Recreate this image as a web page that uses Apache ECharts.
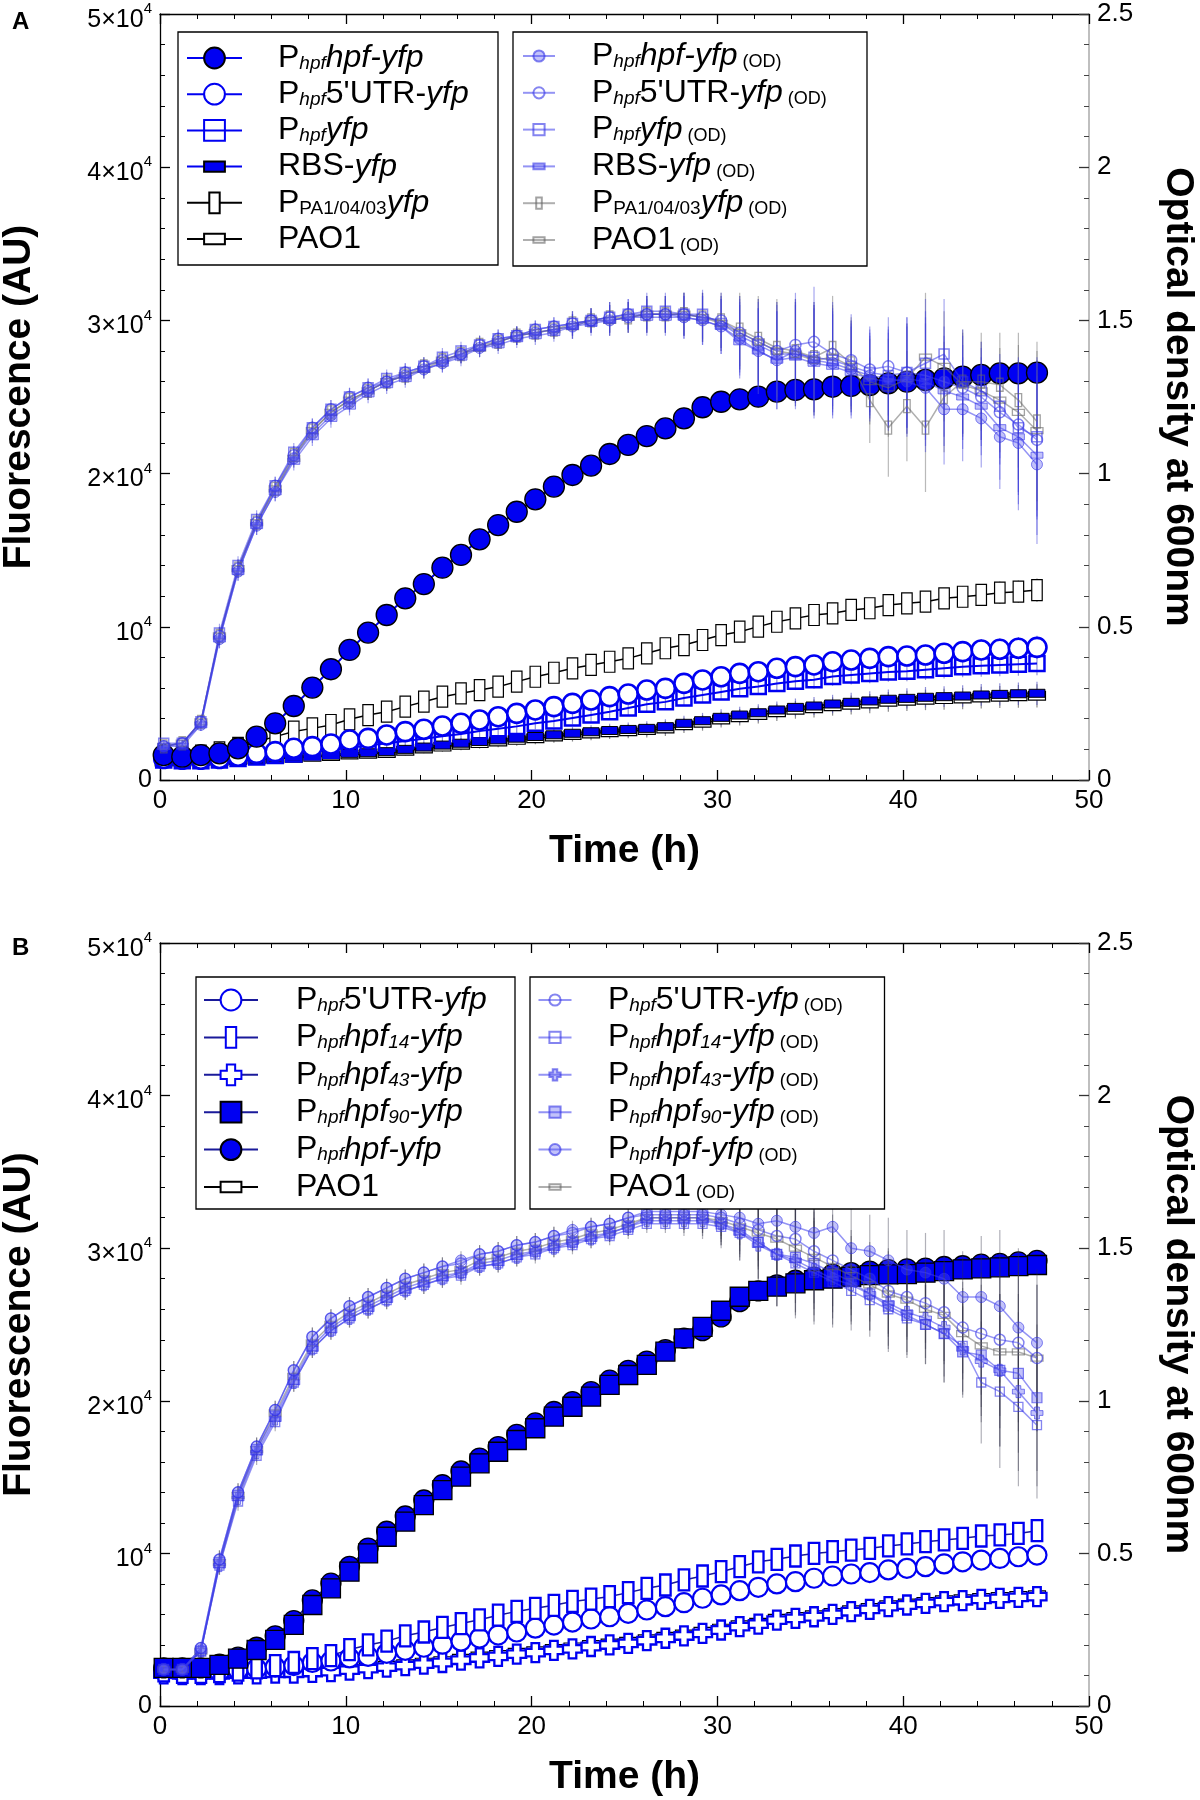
<!DOCTYPE html>
<html><head><meta charset="utf-8">
<script src="https://cdn.jsdelivr.net/npm/echarts@6/dist/echarts.min.js"></script>
<style>html,body{margin:0;padding:0;background:#fff}#c{width:1200px;height:1800px}</style>
</head><body><div id="c"></div>
<script>
// ---------- DATA ----------
const time = [0.2,1.2,2.2,3.2,4.2,5.2,6.2,7.2,8.2,9.2,10.2,11.2,12.2,13.2,14.2,15.2,16.2,17.2,18.2,19.2,20.2,21.2,22.2,23.2,24.2,25.2,26.2,27.2,28.2,29.2,30.2,31.2,32.2,33.2,34.2,35.2,36.2,37.2,38.2,39.2,40.2,41.2,42.2,43.2,44.2,45.2,46.2,47.2];

// Panel A – fluorescence (AU)
const fA_hpf = [1630,1520,1630,1740,2070,2830,3700,4830,6030,7230,8490,9620,10770,11860,12790,13860,14690,15710,16640,17510,18320,19150,19910,20520,21280,21870,22450,22950,23610,24330,24690,24850,25020,25350,25460,25500,25670,25720,25780,25890,26000,26110,26220,26330,26440,26540,26540,26590];
const fA_utr = [1400,1350,1350,1400,1550,1740,1850,2070,2180,2350,2610,2720,2940,3160,3310,3520,3700,3920,4130,4350,4570,4790,5000,5220,5440,5610,5870,5980,6310,6530,6740,6960,7070,7290,7400,7510,7720,7830,7940,8050,8090,8160,8270,8380,8490,8530,8600,8660];
const fA_yfp = [1300,1250,1250,1300,1400,1500,1600,1700,1850,1950,2100,2250,2400,2550,2700,2850,3000,3200,3350,3500,3700,3850,4050,4250,4450,4700,4950,5100,5350,5550,5750,5950,6100,6300,6450,6550,6750,6850,6950,7050,7100,7200,7300,7400,7450,7500,7550,7600];
const fA_rbs = [1260,1260,1310,1310,1370,1410,1480,1520,1560,1630,1740,1780,1850,2000,2150,2280,2400,2510,2620,2730,2840,2950,3050,3150,3230,3300,3370,3480,3700,3870,4090,4240,4390,4570,4740,4830,4960,5070,5160,5270,5330,5400,5440,5480,5550,5590,5630,5660];
const fA_pa1 = [1500,1500,1600,1800,2100,2500,2830,3160,3370,3590,3960,4240,4460,4790,5110,5440,5660,5870,6090,6420,6740,7000,7290,7510,7720,7940,8270,8600,8810,9140,9460,9680,10010,10330,10550,10770,10880,11100,11210,11420,11530,11640,11860,11960,12080,12230,12290,12400];
const fA_pao1 = [1200,1200,1250,1250,1300,1350,1400,1450,1500,1560,1650,1700,1760,1900,2050,2170,2290,2400,2500,2610,2720,2830,2930,3030,3110,3180,3250,3350,3560,3730,3940,4090,4240,4410,4580,4670,4800,4900,4990,5100,5160,5230,5270,5310,5380,5420,5460,5490];
const errF_A = [150,150,160,160,180,200,210,220,230,250,260,270,280,300,310,320,340,350,360,380,390,400,420,430,440,460,470,480,500,510,520,540,550,560,580,590,600,620,630,640,660,670,680,700,710,720,740,760];

// Panel A – optical density
const odA_hpf = [0.11,0.12,0.18,0.46,0.68,0.83,0.94,1.05,1.13,1.19,1.23,1.27,1.30,1.32,1.34,1.36,1.39,1.41,1.43,1.45,1.46,1.47,1.48,1.50,1.50,1.51,1.52,1.52,1.51,1.50,1.48,1.44,1.40,1.37,1.40,1.37,1.36,1.34,1.32,1.31,1.30,1.28,1.21,1.21,1.18,1.12,1.10,1.03];
const odA_utr = [0.11,0.12,0.19,0.47,0.69,0.84,0.96,1.06,1.15,1.21,1.25,1.28,1.30,1.33,1.35,1.37,1.39,1.42,1.44,1.45,1.47,1.48,1.49,1.50,1.51,1.52,1.52,1.52,1.52,1.51,1.50,1.46,1.43,1.40,1.42,1.43,1.39,1.37,1.34,1.35,1.33,1.32,1.30,1.28,1.25,1.20,1.16,1.11];
const odA_yfp = [0.12,0.12,0.19,0.48,0.70,0.85,0.96,1.07,1.15,1.21,1.25,1.28,1.31,1.33,1.35,1.38,1.40,1.42,1.44,1.45,1.47,1.48,1.49,1.50,1.51,1.52,1.53,1.53,1.52,1.52,1.49,1.45,1.42,1.39,1.39,1.38,1.37,1.35,1.33,1.32,1.33,1.36,1.39,1.30,1.27,1.22,1.15,1.12];
const odA_rbs = [0.11,0.11,0.18,0.46,0.68,0.83,0.94,1.04,1.12,1.18,1.22,1.26,1.29,1.31,1.34,1.36,1.38,1.41,1.42,1.44,1.45,1.46,1.48,1.49,1.50,1.51,1.51,1.51,1.51,1.50,1.48,1.43,1.40,1.37,1.38,1.36,1.35,1.33,1.31,1.30,1.31,1.30,1.27,1.25,1.22,1.15,1.12,1.06];
const odA_pa1 = [0.11,0.12,0.19,0.47,0.69,0.84,0.95,1.06,1.14,1.20,1.24,1.27,1.30,1.32,1.35,1.37,1.39,1.42,1.43,1.45,1.46,1.47,1.49,1.50,1.51,1.51,1.52,1.52,1.52,1.51,1.50,1.47,1.44,1.41,1.40,1.38,1.41,1.36,1.24,1.15,1.22,1.15,1.25,1.30,1.30,1.29,1.24,1.17];
const odA_pao1 = [0.11,0.12,0.19,0.47,0.69,0.84,0.95,1.05,1.14,1.20,1.24,1.27,1.30,1.32,1.34,1.37,1.39,1.41,1.43,1.45,1.46,1.47,1.48,1.50,1.50,1.51,1.52,1.52,1.52,1.51,1.49,1.46,1.43,1.40,1.39,1.37,1.38,1.35,1.30,1.28,1.31,1.38,1.35,1.29,1.27,1.24,1.20,1.14];
const errOD_A = [0.01,0.01,0.02,0.03,0.03,0.03,0.03,0.03,0.03,0.03,0.03,0.03,0.03,0.03,0.03,0.03,0.03,0.03,0.03,0.03,0.03,0.03,0.04,0.04,0.05,0.05,0.06,0.06,0.07,0.08,0.09,0.12,0.14,0.16,0.17,0.18,0.17,0.15,0.14,0.16,0.18,0.21,0.18,0.17,0.16,0.17,0.22,0.26];

// Panel B – fluorescence (AU)
const fB_utr = [2300,2250,2250,2250,2350,2450,2550,2650,2850,2950,3150,3250,3450,3650,3850,4050,4250,4450,4650,4850,5100,5300,5500,5700,5850,6070,6290,6510,6770,7060,7280,7560,7780,8000,8150,8370,8520,8650,8740,8920,9020,9130,9310,9450,9560,9670,9780,9890];
const fB_h14 = [2300,2200,2200,2250,2350,2500,2650,2850,3100,3300,3700,4000,4250,4600,4850,5150,5400,5650,5950,6200,6400,6600,6850,7000,7170,7430,7710,7930,8260,8520,8800,9130,9450,9610,9830,10000,10110,10220,10330,10490,10620,10770,10880,10990,11140,11210,11310,11490];
const fB_h43 = [2100,2050,2050,2050,2100,2100,2150,2150,2200,2250,2350,2450,2550,2650,2750,2850,3000,3150,3250,3400,3500,3650,3750,3900,4000,4110,4280,4440,4590,4760,4980,5200,5370,5630,5740,5850,6010,6180,6330,6510,6620,6730,6840,6900,6990,7050,7120,7170];
const fB_h90 = [2500,2500,2500,2700,3100,3670,4330,5310,6620,7710,8800,10000,11090,12080,13170,14150,15030,15900,16660,17430,18200,18960,19610,20270,21040,21690,22350,23220,24090,24850,25900,26820,27200,27480,27700,27900,28000,28130,28240,28280,28300,28400,28500,28610,28680,28750,28830,28900];
const fB_hpf = [2500,2500,2500,2750,3200,3850,4600,5600,6950,8050,9150,10350,11450,12450,13500,14500,15400,16250,17000,17800,18550,19300,19950,20600,21350,22000,22600,23350,24100,24600,25500,26500,27200,27600,27900,28100,28300,28400,28500,28600,28650,28700,28800,28850,28950,29000,29100,29200];
const fB_pao1 = [2150,2100,2100,2100,2150,2150,2200,2250,2300,2350,2450,2550,2650,2750,2850,2950,3100,3250,3350,3500,3600,3750,3850,4000,4100,4220,4380,4540,4700,4870,5080,5300,5470,5720,5840,5950,6110,6280,6430,6610,6720,6830,6940,7000,7090,7150,7220,7270];
const errF_B = [120,120,130,130,140,150,160,170,180,190,200,210,220,230,240,250,260,270,280,290,300,310,320,330,340,350,360,370,380,390,400,410,420,430,440,450,460,470,480,490,500,510,520,530,540,550,560,570];

// Panel B – optical density
const odB_utr = [0.12,0.12,0.19,0.48,0.70,0.85,0.97,1.10,1.21,1.27,1.31,1.34,1.37,1.40,1.42,1.44,1.45,1.48,1.49,1.51,1.52,1.54,1.55,1.57,1.58,1.60,1.61,1.61,1.61,1.61,1.60,1.58,1.56,1.54,1.53,1.49,1.46,1.43,1.40,1.36,1.34,1.32,1.29,1.24,1.22,1.20,1.19,1.14];
const odB_h14 = [0.12,0.12,0.18,0.46,0.67,0.82,0.93,1.06,1.17,1.23,1.27,1.30,1.33,1.36,1.38,1.40,1.41,1.44,1.45,1.47,1.48,1.50,1.51,1.53,1.54,1.56,1.58,1.58,1.58,1.58,1.57,1.55,1.52,1.48,1.45,1.42,1.39,1.36,1.33,1.30,1.27,1.25,1.22,1.18,1.06,1.03,0.98,0.92];
const odB_h43 = [0.12,0.12,0.18,0.46,0.68,0.83,0.94,1.06,1.17,1.23,1.27,1.30,1.33,1.36,1.38,1.40,1.42,1.44,1.45,1.47,1.49,1.50,1.52,1.53,1.55,1.57,1.59,1.59,1.59,1.59,1.58,1.55,1.51,1.48,1.46,1.43,1.40,1.38,1.35,1.32,1.29,1.27,1.24,1.17,1.13,1.10,1.03,0.96];
const odB_h90 = [0.12,0.12,0.18,0.47,0.69,0.84,0.95,1.07,1.18,1.24,1.28,1.31,1.34,1.37,1.39,1.41,1.42,1.45,1.46,1.48,1.49,1.51,1.52,1.54,1.55,1.57,1.60,1.60,1.60,1.60,1.58,1.56,1.52,1.48,1.47,1.45,1.42,1.39,1.35,1.31,1.28,1.25,1.22,1.16,1.15,1.10,1.09,1.01];
const odB_hpf = [0.12,0.12,0.19,0.48,0.70,0.85,0.97,1.10,1.21,1.27,1.31,1.34,1.37,1.40,1.42,1.44,1.46,1.48,1.49,1.51,1.52,1.54,1.56,1.57,1.58,1.60,1.62,1.62,1.62,1.62,1.61,1.60,1.58,1.59,1.57,1.55,1.57,1.50,1.49,1.46,1.43,1.42,1.40,1.34,1.34,1.31,1.24,1.19];
const odB_pao1 = [0.12,0.12,0.18,0.47,0.69,0.84,0.96,1.08,1.19,1.25,1.29,1.32,1.35,1.38,1.40,1.42,1.43,1.46,1.47,1.49,1.50,1.52,1.53,1.55,1.56,1.58,1.60,1.60,1.60,1.60,1.59,1.57,1.55,1.53,1.50,1.47,1.44,1.41,1.38,1.35,1.33,1.30,1.28,1.22,1.18,1.16,1.16,1.14];
const errOD_B = [0.01,0.01,0.02,0.03,0.03,0.03,0.03,0.03,0.03,0.03,0.03,0.03,0.03,0.03,0.03,0.03,0.03,0.03,0.03,0.03,0.03,0.03,0.03,0.03,0.03,0.03,0.03,0.03,0.04,0.05,0.07,0.09,0.12,0.17,0.18,0.17,0.15,0.13,0.12,0.14,0.13,0.13,0.16,0.15,0.20,0.25,0.26,0.24];

// Axis tick values
const xTicks = {min:0, max:50, interval:10};
const fTicks = {min:0, max:50000, interval:10000};
const odTicks = {min:0, max:2.5, interval:0.5};

// ---------- STYLE ----------
const FF = "'Liberation Sans', Arial, Helvetica, sans-serif";
const BLUE = '#0000f2';
const NAVY = '#1a1a9a';
const ODL = 'rgba(60,60,235,0.55)', ODF = 'rgba(80,80,240,0.35)', ODB = 'rgba(50,50,230,0.6)';
const GRL = 'rgba(110,110,110,0.55)', GRB = 'rgba(100,100,100,0.6)';
const TALL = 'path://M0 0L0 0M20 20L20 20M5 0L15 0L15 20L5 20Z';
const WIDE = 'path://M0 0L0 0M20 20L20 20M0 5L20 5L20 15L0 15Z';
const PLUS = 'path://M6 0L14 0L14 6L20 6L20 14L14 14L14 20L6 20L6 14L0 14L0 6L6 6Z';
const ERRC = ['rgba(70,70,190,0.6)','rgba(60,60,60,0.6)','rgba(60,60,220,0.45)','rgba(100,100,100,0.45)','rgba(50,50,70,0.38)'];

const LABEL = {
  A_hpf:'{g| }{n|P}{s|hpf}{i|hpf-yfp}', A_utr:"{g| }{n|P}{s|hpf}{n|5'UTR-}{i|yfp}", A_yfp:'{g| }{n|P}{s|hpf}{i|yfp}',
  A_rbs:'{g| }{n|RBS-}{i|yfp}', A_pa1:'{g| }{n|P}{sn|PA1/04/03}{i|yfp}', A_pao1:'{g| }{n|PAO1}',
  A_hpf_od:'{g| }{n|P}{s|hpf}{i|hpf-yfp}{od| (OD)}', A_utr_od:"{g| }{n|P}{s|hpf}{n|5'UTR-}{i|yfp}{od| (OD)}", A_yfp_od:'{g| }{n|P}{s|hpf}{i|yfp}{od| (OD)}',
  A_rbs_od:'{g| }{n|RBS-}{i|yfp}{od| (OD)}', A_pa1_od:'{g| }{n|P}{sn|PA1/04/03}{i|yfp}{od| (OD)}', A_pao1_od:'{g| }{n|PAO1}{od| (OD)}',
  B_utr:"{g| }{n|P}{s|hpf}{n|5'UTR-}{i|yfp}", B_h14:'{g| }{n|P}{s|hpf}{i|hpf}{s|14}{i|-yfp}', B_h43:'{g| }{n|P}{s|hpf}{i|hpf}{s|43}{i|-yfp}',
  B_h90:'{g| }{n|P}{s|hpf}{i|hpf}{s|90}{i|-yfp}', B_hpf:'{g| }{n|P}{s|hpf}{i|hpf-yfp}', B_pao1:'{g| }{n|PAO1}',
  B_utr_od:"{g| }{n|P}{s|hpf}{n|5'UTR-}{i|yfp}{od| (OD)}", B_h14_od:'{g| }{n|P}{s|hpf}{i|hpf}{s|14}{i|-yfp}{od| (OD)}', B_h43_od:'{g| }{n|P}{s|hpf}{i|hpf}{s|43}{i|-yfp}{od| (OD)}',
  B_h90_od:'{g| }{n|P}{s|hpf}{i|hpf}{s|90}{i|-yfp}{od| (OD)}', B_hpf_od:'{g| }{n|P}{s|hpf}{i|hpf-yfp}{od| (OD)}', B_pao1_od:'{g| }{n|PAO1}{od| (OD)}'
};

function pts(vals){ return vals.map((v,i)=>[time[i], v]); }
function ser(name, vals, xi, yi, symbol, size, fill, border, bw, lineColor, lw, z){
  return {name, type:'line', xAxisIndex:xi, yAxisIndex:yi, data:pts(vals), symbol, symbolSize:size,
    showSymbol:true, showAllSymbol:true, z:z||2, silent:true,
    itemStyle:{color:fill, borderColor:border, borderWidth:bw, opacity:1},
    lineStyle:{color:lineColor, width:lw}, emphasis:{disabled:true}};
}
function errData(list, err){ const out=[]; list.forEach(([vals,c])=>vals.forEach((v,i)=>out.push([time[i], v, err[i], c]))); return out; }
function renderErr(params, api){
  const x=api.value(0), y=api.value(1), e=api.value(2);
  const a=api.coord([x,y-e]), b=api.coord([x,y+e]);
  return {type:'line', shape:{x1:a[0],y1:a[1],x2:b[0],y2:b[1]}, style:{stroke:ERRC[api.value(3)], lineWidth:1.2}};
}
function errSeries(xi, yi, data, z){
  return {type:'custom', xAxisIndex:xi, yAxisIndex:yi, renderItem:renderErr, data, encode:{x:0,y:1}, z, silent:true};
}
function fmtF(v){ if(v===0) return '0'; const m=Math.round(v/10000); return m===1 ? '{b|10}{s|4}' : '{b|'+m+'×10}{s|4}'; }

const tickLine = {color:'#000', width:1.3};
const titleStyle = {fontSize:39,fontWeight:'bold',color:'#000',fontFamily:FF};
function xAxes(gi){
  return [
    {gridIndex:gi, type:'value', position:'bottom', min:xTicks.min, max:xTicks.max, interval:xTicks.interval,
     axisLine:{show:true,onZero:false,lineStyle:tickLine}, axisTick:{show:true,inside:true,length:10,lineStyle:tickLine},
     minorTick:{show:true,splitNumber:5,length:5,lineStyle:{color:'#000',width:1}}, splitLine:{show:false}, minorSplitLine:{show:false},
     axisLabel:{fontSize:26,color:'#000',fontFamily:FF,margin:8},
     name:'Time (h)', nameLocation:'middle', nameGap:52, nameTextStyle:titleStyle},
    {gridIndex:gi, type:'value', position:'top', min:xTicks.min, max:xTicks.max, interval:xTicks.interval,
     axisLine:{show:true,onZero:false,lineStyle:tickLine}, axisTick:{show:true,inside:true,length:10,lineStyle:tickLine},
     minorTick:{show:true,splitNumber:5,length:5,lineStyle:{color:'#000',width:1}}, splitLine:{show:false},
     axisLabel:{show:false}}
  ];
}
function yAxes(gi){
  return [
    {gridIndex:gi, type:'value', position:'left', min:fTicks.min, max:fTicks.max, interval:fTicks.interval,
     axisLine:{show:true,onZero:false,lineStyle:tickLine}, axisTick:{show:true,inside:true,length:10,lineStyle:tickLine},
     minorTick:{show:true,splitNumber:5,length:5,lineStyle:{color:'#000',width:1}}, splitLine:{show:false},
     axisLabel:{fontSize:25,color:'#000',fontFamily:FF,margin:8,formatter:fmtF,
       rich:{b:{fontSize:25,fontFamily:FF,color:'#000',padding:[12,0,0,0]},
             s:{fontSize:15,fontFamily:FF,color:'#000',verticalAlign:'top',padding:[6,0,0,0]}}},
     name:'Fluorescence (AU)', nameLocation:'middle', nameRotate:90, nameGap:121, nameTextStyle:titleStyle},
    {gridIndex:gi, type:'value', position:'right', min:odTicks.min, max:odTicks.max, interval:odTicks.interval,
     axisLine:{show:true,onZero:false,lineStyle:{color:'#aaa',width:1.5}}, axisTick:{show:true,inside:true,length:10,lineStyle:{color:'#333',width:1.3}},
     minorTick:{show:true,splitNumber:5,length:5,lineStyle:{color:'#444',width:1}}, splitLine:{show:false},
     axisLabel:{fontSize:26,color:'#000',fontFamily:FF,margin:8},
     name:'Optical density at 600nm', nameLocation:'middle', nameRotate:-90, nameGap:69, nameTextStyle:titleStyle}
  ];
}
function legend(names, left, top, pad, iw, ih, gap, sp, tw){
  return {orient:'vertical', left, top, padding:pad, itemWidth:iw, itemHeight:ih, itemGap:gap, z:10,
    borderColor:'#000', borderWidth:1.3, backgroundColor:'#fff', selectedMode:false, data:names,
    formatter:(n)=>LABEL[n],
    textStyle:{width:tw, color:'#000', fontFamily:FF, fontSize:32, lineHeight:30,
      rich:{g:{width:sp},
            n:{fontSize:32,lineHeight:30,fontFamily:FF,color:'#000'},
            i:{fontSize:32,lineHeight:30,fontStyle:'italic',fontFamily:FF,color:'#000'},
            s:{fontSize:19,fontStyle:'italic',verticalAlign:'bottom',fontFamily:FF,color:'#000'},
            sn:{fontSize:19,verticalAlign:'bottom',fontFamily:FF,color:'#000'},
            od:{fontSize:18,verticalAlign:'bottom',fontFamily:FF,color:'#000'}}}};
}

const series = [
  // Panel A fluorescence
  errSeries(0,0, errData([[fA_pao1,1],[fA_pa1,1],[fA_rbs,0],[fA_yfp,0],[fA_utr,0],[fA_hpf,0]], errF_A), 1),
  ser('A_pao1', fA_pao1, 0,0, WIDE, 17, '#fff', '#000', 1.2, '#000', 1.5),
  ser('A_pa1', fA_pa1, 0,0, TALL, 21, '#fff', '#000', 1.2, '#000', 1.5),
  ser('A_rbs', fA_rbs, 0,0, WIDE, 16, BLUE, '#000', 1, BLUE, 2),
  ser('A_yfp', fA_yfp, 0,0, 'rect', 15, 'rgba(255,255,255,0)', BLUE, 2.5, BLUE, 2),
  ser('A_utr', fA_utr, 0,0, 'circle', 19, '#fff', BLUE, 2.6, BLUE, 2),
  ser('A_hpf', fA_hpf, 0,0, 'circle', 21, BLUE, '#000', 1.3, BLUE, 2),
  // Panel A OD
  ser('A_pao1_od', odA_pao1, 0,1, WIDE, 12, 'rgba(255,255,255,0)', GRB, 1.3, GRL, 1.5, 4),
  ser('A_pa1_od', odA_pa1, 0,1, TALL, 13, 'rgba(255,255,255,0)', GRB, 1.3, GRL, 1.5, 4),
  ser('A_rbs_od', odA_rbs, 0,1, WIDE, 12, ODF, ODB, 1, ODL, 1.5, 4),
  ser('A_yfp_od', odA_yfp, 0,1, 'rect', 10, 'rgba(255,255,255,0)', ODB, 1.5, ODL, 1.5, 4),
  ser('A_utr_od', odA_utr, 0,1, 'circle', 11, 'rgba(255,255,255,0.1)', ODB, 1.5, ODL, 1.5, 4),
  ser('A_hpf_od', odA_hpf, 0,1, 'circle', 11, ODF, ODB, 1, ODL, 1.5, 4),
  errSeries(0,1, errData([[odA_pao1,3],[odA_pa1,3],[odA_rbs,2],[odA_yfp,2],[odA_utr,2],[odA_hpf,2]], errOD_A), 4),
  // Panel B fluorescence
  errSeries(2,2, errData([[fB_pao1,1],[fB_h43,0],[fB_utr,0],[fB_h14,0],[fB_hpf,0],[fB_h90,0]], errF_B), 1),
  ser('B_pao1', fB_pao1, 2,2, WIDE, 17, '#fff', '#000', 1.2, '#000', 1.5),
  ser('B_h43', fB_h43, 2,2, PLUS, 19, '#fff', BLUE, 2.3, NAVY, 1.5),
  ser('B_utr', fB_utr, 2,2, 'circle', 19, '#fff', BLUE, 2.2, NAVY, 1.5),
  ser('B_h14', fB_h14, 2,2, TALL, 21, '#fff', BLUE, 2.3, NAVY, 1.5),
  ser('B_hpf', fB_hpf, 2,2, 'circle', 20, BLUE, '#000', 1.3, NAVY, 1.5),
  ser('B_h90', fB_h90, 2,2, 'rect', 19, BLUE, '#000', 1.3, NAVY, 1.5, 3),
  // Panel B OD
  ser('B_pao1_od', odB_pao1, 2,3, WIDE, 12, 'rgba(255,255,255,0)', GRB, 1.3, GRL, 1.5, 4),
  ser('B_h14_od', odB_h14, 2,3, 'rect', 9, 'rgba(255,255,255,0)', ODB, 1.3, ODL, 1.5, 4),
  ser('B_h43_od', odB_h43, 2,3, PLUS, 12, ODF, ODB, 1, ODL, 1.5, 4),
  ser('B_h90_od', odB_h90, 2,3, 'rect', 10, ODF, ODB, 1.2, ODL, 1.5, 4),
  ser('B_utr_od', odB_utr, 2,3, 'circle', 11, 'rgba(255,255,255,0.1)', ODB, 1.5, ODL, 1.5, 4),
  ser('B_hpf_od', odB_hpf, 2,3, 'circle', 11, ODF, ODB, 1, ODL, 1.5, 4),
  errSeries(2,3, errData([[odB_pao1,4],[odB_h14,4],[odB_h43,4],[odB_h90,4],[odB_utr,4],[odB_hpf,4]], errOD_B), 4)
];

const option = {
  animation:false,
  backgroundColor:'#fff',
  title:[
    {text:'A', left:12, top:10, padding:0, textStyle:{fontSize:24,fontWeight:'bold',color:'#000',fontFamily:FF}},
    {text:'B', left:12, top:936, padding:0, textStyle:{fontSize:24,fontWeight:'bold',color:'#000',fontFamily:FF}}
  ],
  grid:[
    {left:160, top:14, width:929, height:766, containLabel:false, outerBoundsMode:'none'},
    {left:160, top:943, width:929, height:763, containLabel:false, outerBoundsMode:'none'}
  ],
  xAxis:[...xAxes(0), ...xAxes(1)],
  yAxis:[...yAxes(0), ...yAxes(1)],
  legend:[
    legend(['A_hpf','A_utr','A_yfp','A_rbs','A_pa1','A_pao1'], 178, 32, [10,8,10,8], 55, 26, 4.2, 31, 243),
    legend(['A_hpf_od','A_utr_od','A_yfp_od','A_rbs_od','A_pa1_od','A_pao1_od'], 513, 32, [8,8,10,9], 32, 14, 4.8, 32, 299),
    legend(['B_utr','B_h14','B_h43','B_h90','B_hpf','B_pao1'], 196, 977, [7,8,6,7], 54, 26, 5.4, 33, 244),
    legend(['B_utr_od','B_h14_od','B_h43_od','B_h90_od','B_hpf_od','B_pao1_od'], 530, 977, [7,8,6,7.5], 33, 14, 5.4, 31.5, 300)
  ],
  series
};
const chart = echarts.init(document.getElementById('c'), null, {renderer:'canvas'});
chart.setOption(option);
</script></body></html>
